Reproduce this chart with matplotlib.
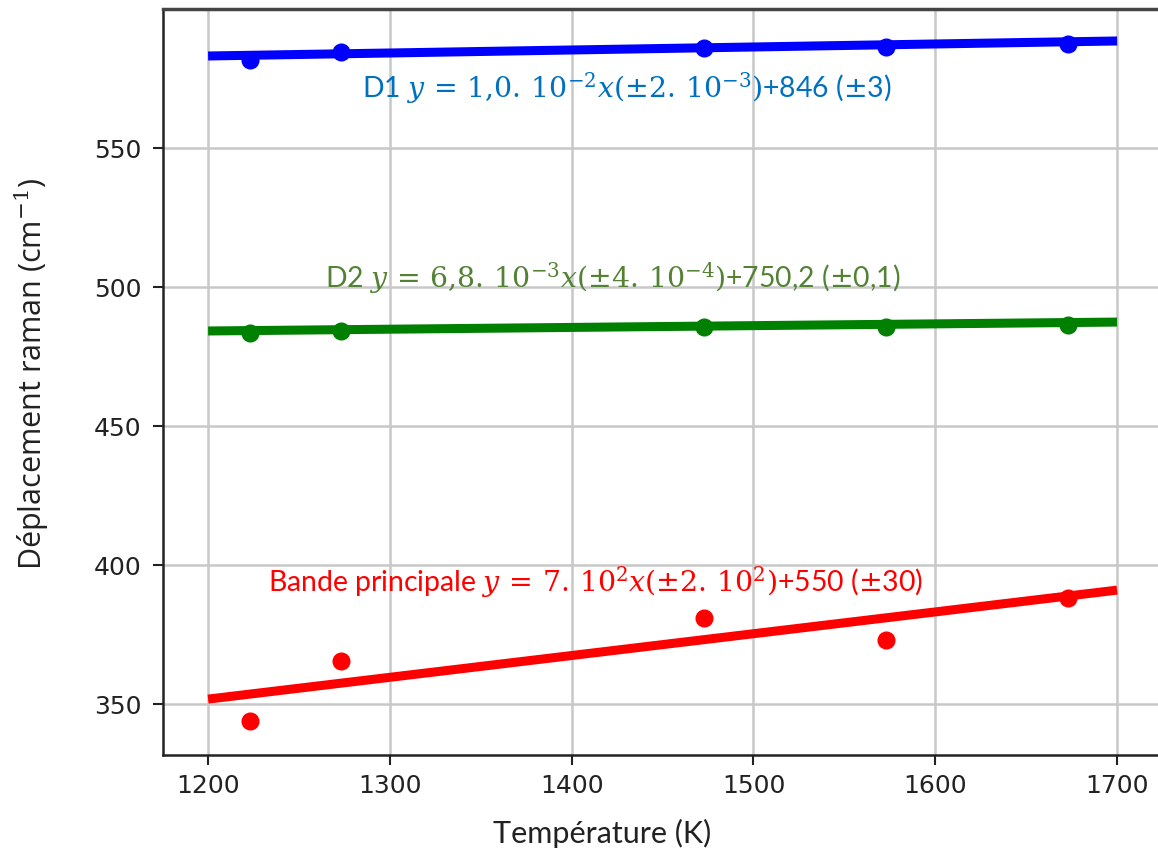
import matplotlib
matplotlib.use("Agg")
import matplotlib.pyplot as plt

# Data
temperature = [1223, 1273, 1473, 1573, 1673]
d1_values = [581.7, 584.5, 586.0, 586.3, 587.4]
d2_values = [483.5, 484.2, 485.6, 485.6, 486.3]
bande_values = [343.9, 365.5, 380.9, 373.0, 388.1]

fit_x = [1200, 1700]
d1_fit = [583.1, 588.5]
d2_fit = [484.2, 487.4]
bande_fit = [351.8, 391.0]

x_ticks = [1200, 1300, 1400, 1500, 1600, 1700]
y_ticks = [350, 400, 450, 500, 550]

label_d1 = r"D1 $y\,=\,1{,}0.\,10^{-2}x(\pm2.\,10^{-3})$+846 ($\pm$3)"
label_d2 = r"D2 $y\,=\,6{,}8.\,10^{-3}x(\pm4.\,10^{-4})$+750,2 ($\pm$0,1)"
label_bande = r"Bande principale $y\,=\,7.\,10^{2}x(\pm2.\,10^{2})$+550 ($\pm$30)"

plt.rcParams['mathtext.fontset'] = 'dejavuserif'

fig = plt.figure(figsize=(11.58, 8.52), dpi=100)
ax = fig.add_axes([163/1158, (852-755)/852, 1 - 163/1158, (755-9)/852])

ax.grid(True, color='#c8c8c8', linewidth=1.8, zorder=0)
ax.set_axisbelow(True)

ax.plot(fit_x, d1_fit, color='#0000ff', linewidth=6.5, solid_capstyle='butt', zorder=3)
ax.plot(temperature, d1_values, 'o', color='#0000ff', markersize=12, zorder=4)
ax.plot(fit_x, d2_fit, color='#008000', linewidth=6.5, solid_capstyle='butt', zorder=3)
ax.plot(temperature, d2_values, 'o', color='#008000', markersize=12, zorder=4)
ax.plot(fit_x, bande_fit, color='#ff0000', linewidth=6.5, solid_capstyle='butt', zorder=3)
ax.plot(temperature, bande_values, 'o', color='#ff0000', markersize=12, zorder=4)

ax.set_xlim(1175.2, 1722.5)
ax.set_ylim(331.7, 600)
ax.set_xticks(x_ticks)
ax.set_yticks(y_ticks)
ax.tick_params(axis='both', labelsize=18, length=7.5, width=1.5, color='#222222', labelcolor='#222222')
ax.tick_params(axis='x', pad=6)
ax.tick_params(axis='y', pad=8)

ax.spines['right'].set_visible(False)
for s in ['left', 'bottom']:
    ax.spines[s].set_linewidth(1.8)
    ax.spines[s].set_color('#222222')
ax.spines['top'].set_linewidth(2.5)
ax.spines['top'].set_color('#444444')

ax.set_xlabel("Température (K)", fontsize=22, family='Lato', color='#222222')
ax.xaxis.set_label_coords((602 - 163) / (1158 - 163), -(833 - 755) / 746, transform=ax.transAxes)
ax.xaxis.label.set_va('center')
ax.set_ylabel(r"Déplacement raman (cm$^{-1}$)", fontsize=22, family='Open Sans', color='#222222')
ax.yaxis.set_label_coords(-0.113, (755 - 374) / 746)

tfont = dict(family='Lato', fontsize=20.4)
ax.text(1284.7, 571.6, label_d1, color='#0070C0', va='center', ha='left', **tfont)
ax.text(1264.4, 503.2, label_d2, color='#548235', va='center', ha='left', **tfont)
ax.text(1233.0, 393.9, label_bande, color='#ff0000', va='center', ha='left', **tfont)

fig.savefig("out.png", dpi=100)
